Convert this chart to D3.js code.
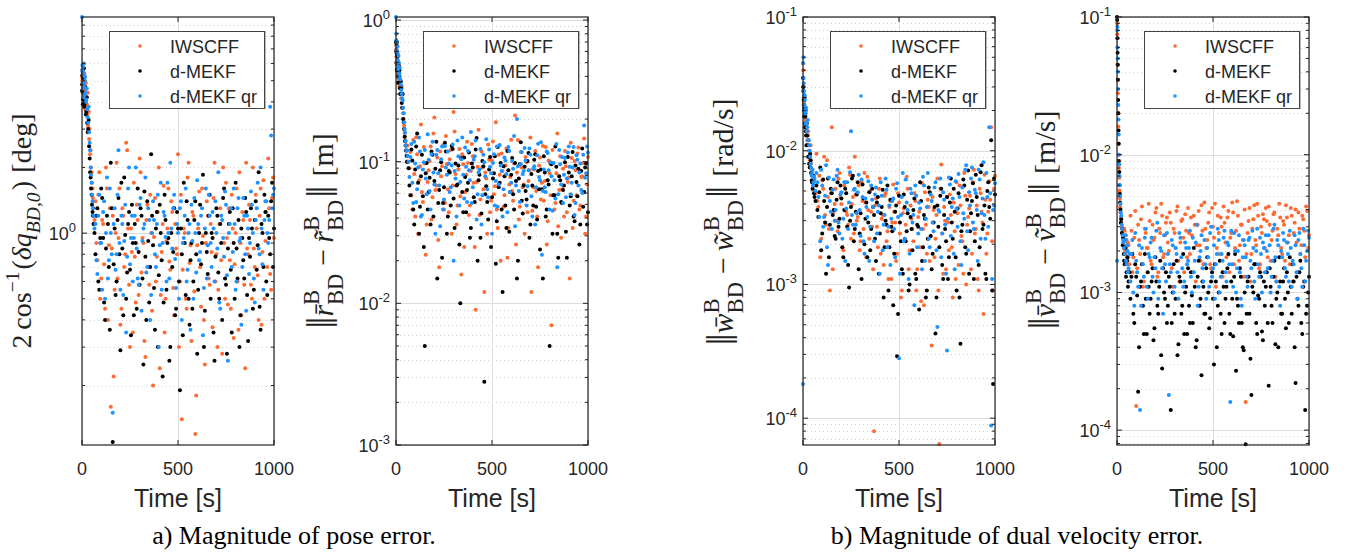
<html>
<head>
<script src="https://d3js.org/d3.v7.min.js"></script>
<style>
  body { margin: 0; background: #fff; }
  svg text { font-family: "Liberation Sans", Arial, sans-serif; }
</style>
</head>
<body>
<svg id="chart" width="1354" height="555"></svg>
<script>
// sample times [s]: two interleaved sample sets
var times = [0, 2, 4, 6, 8, 10, 13, 16, 20, 25, 30, 35, 40, 45, 50, 55, 60,
  70, 80, 90, 100, 110, 120, 130, 140, 150, 160, 170, 180, 190, 200, 210, 220, 230, 240, 250, 260,
  270, 280, 290, 300, 310, 320, 330, 340, 350, 360, 370, 380, 390, 400, 410, 420, 430, 440, 450, 460,
  470, 480, 490, 500, 510, 520, 530, 540, 550, 560, 570, 580, 590, 600, 610, 620, 630, 640, 650, 660,
  670, 680, 690, 700, 710, 720, 730, 740, 750, 760, 770, 780, 790, 800, 810, 820, 830, 840, 850, 860,
  870, 880, 890, 900, 910, 920, 930, 940, 950, 960, 970, 980, 990, 1000];
var times2 = [1, 3, 5, 7, 9, 12, 15, 18, 22, 27, 32, 37, 42, 47, 52, 57, 65,
  75, 85, 95, 105, 115, 125, 135, 145, 155, 165, 175, 185, 195, 205, 215, 225, 235, 245, 255, 265,
  275, 285, 295, 305, 315, 325, 335, 345, 355, 365, 375, 385, 395, 405, 415, 425, 435, 445, 455, 465,
  475, 485, 495, 505, 515, 525, 535, 545, 555, 565, 575, 585, 595, 605, 615, 625, 635, 645, 655, 665,
  675, 685, 695, 705, 715, 725, 735, 745, 755, 765, 775, 785, 795, 805, 815, 825, 835, 845, 855, 865,
  875, 885, 895, 905, 915, 925, 935, 945, 955, 965, 975, 985, 995];

var seriesNames = ["IWSCFF", "d-MEKF", "d-MEKF qr"];
var xTicks = [0, 500, 1000];

// a) attitude error [deg]
var attIW = [5.2, 4.8, 5.6, 4.3, 5.0, 4.6, 5.4, 4.1, 4.9, 3.9, 4.4, 3.6, 3.0, 2.4, 1.9, 1.6, 1.3,
  1.4, 0.75, 1.9, 0.62, 1.1, 0.45, 1.6, 0.88, 0.16, 1.2, 0.55, 2.1, 0.95, 0.38, 1.3, 0.7, 2.6, 1.05, 0.3, 0.82,
  1.7, 0.48, 1.15, 2.2, 0.66, 0.9, 0.27, 1.35, 0.58, 1.0, 0.2, 1.45, 0.78, 2.0, 0.52, 1.1, 0.35, 0.92, 1.6, 0.68,
  1.25, 0.42, 0.85, 2.3, 0.6, 0.14, 1.05, 0.5, 1.8, 0.73, 0.32, 1.2, 0.12, 0.88, 1.55, 0.46, 0.97, 0.25, 1.4, 0.62,
  1.1, 0.37, 2.1, 0.8, 0.55, 1.3, 0.28, 0.9, 1.7, 0.47, 0.75, 1.5, 0.33, 1.0, 0.6, 1.9, 0.42, 1.15, 0.24, 0.85,
  1.35, 0.58, 2.0, 0.7, 1.05, 0.4, 1.6, 0.82, 0.5, 1.25, 2.2, 0.65, 1.45, 0.95];
var attMEKF = [4.5, 5.3, 3.9, 5.1, 4.4, 5.7, 3.8, 4.7, 3.5, 4.2, 2.9, 3.3, 2.2, 1.8, 1.5, 1.25, 1.1,
  0.8, 1.3, 0.55, 1.6, 0.95, 0.4, 1.2, 0.7, 2.1, 0.11, 1.05, 0.6, 1.45, 0.29, 0.85, 1.8, 0.5, 1.1, 0.68, 1.35,
  0.42, 0.9, 1.6, 0.58, 1.2, 0.25, 0.78, 1.4, 0.48, 2.3, 0.88, 0.36, 1.25, 0.64, 1.0, 0.22, 1.5, 0.55, 0.95, 0.3,
  0.7, 1.3, 0.45, 1.05, 0.19, 0.8, 1.7, 0.52, 1.15, 0.38, 0.9, 0.6, 1.4, 0.28, 1.0, 0.72, 1.85, 0.44, 0.82, 1.2,
  0.5, 0.95, 0.26, 1.3, 0.66, 1.1, 0.4, 1.6, 0.58, 0.85, 1.25, 0.35, 0.9, 1.7, 0.62, 0.3, 1.05, 0.75, 1.45, 0.52,
  0.95, 1.3, 0.45, 1.15, 0.68, 1.9, 0.36, 1.0, 1.5, 0.6, 1.2, 0.8, 1.7, 1.05];
var attQR = [9.8, 5.9, 4.6, 5.5, 4.9, 6.0, 4.3, 5.2, 4.0, 4.6, 3.4, 3.8, 2.6, 2.0, 1.7, 1.4, 1.2,
  1.1, 0.65, 1.5, 0.9, 1.25, 0.5, 1.8, 0.75, 1.0, 0.15, 1.3, 0.8, 2.4, 0.55, 1.1, 0.92, 0.35, 1.6, 0.72, 1.2,
  0.95, 2.0, 0.62, 1.35, 0.44, 1.05, 1.8, 0.7, 1.15, 0.52, 1.4, 0.8, 1.1, 0.3, 1.7, 0.9, 1.2, 0.6, 1.0, 2.1,
  0.85, 1.5, 0.56, 1.0, 1.3, 0.4, 0.95, 1.6, 0.68, 1.1, 1.35, 0.5, 1.0, 1.75, 0.75, 1.2, 0.34, 1.05, 0.62, 1.5,
  0.9, 1.25, 0.6, 1.0, 1.9, 0.45, 1.15, 0.78, 1.35, 0.26, 1.1, 0.7, 1.6, 0.55, 1.3, 0.92, 0.38, 1.45, 0.8, 1.2,
  0.65, 1.55, 1.0, 0.48, 1.3, 0.85, 2.0, 0.72, 1.15, 1.4, 0.9, 3.8, 1.3, 1.6];
var attIW2 = [5.0, 4.4, 5.3, 4.7, 3.8, 5.1, 4.5, 3.7, 4.2, 3.5, 3.1, 2.7, 2.3, 2.0, 1.7, 1.45, 1.15,
  0.9, 1.5, 0.5, 1.15, 0.72, 2.0, 0.4, 1.3, 0.85, 0.22, 1.0, 0.62, 1.6, 0.45, 1.2, 0.8, 2.4, 0.58, 1.05, 0.35,
  0.78, 1.35, 0.52, 1.9, 0.95, 0.32, 1.15, 0.7, 1.5, 0.44, 0.96, 0.6, 1.25, 0.24, 0.82, 1.65, 0.5, 1.05, 0.74, 1.4,
  0.56, 1.1, 0.8, 0.3, 1.5, 0.68, 1.0, 0.45, 2.1, 0.88, 1.25, 0.54, 0.18, 1.05, 0.7, 1.6, 0.4, 0.9, 1.2, 0.58,
  0.82, 1.45, 0.6, 0.3, 1.1, 0.75, 2.0, 0.5, 0.95, 1.3, 0.45, 1.05, 0.72, 1.6, 0.36, 0.9, 1.25, 0.58, 2.1, 0.8,
  1.15, 0.5, 0.85, 1.5, 0.64, 1.2, 0.38, 1.75, 0.92, 0.7, 1.3, 0.55, 1.8];
var attMEKF2 = [4.8, 5.5, 4.1, 4.9, 5.2, 3.9, 4.4, 4.0, 3.6, 3.2, 3.0, 2.5, 1.9, 1.6, 1.35, 1.2, 1.0,
  1.2, 0.6, 0.95, 1.45, 0.48, 0.85, 1.1, 0.36, 1.3, 0.72, 0.52, 1.15, 0.8, 1.7, 0.42, 0.98, 0.66, 1.25, 0.34, 0.9,
  1.1, 0.45, 0.82, 1.3, 0.62, 1.55, 0.4, 0.92, 0.7, 1.2, 0.56, 1.05, 0.3, 1.35, 0.75, 0.48, 1.15, 0.9, 0.26, 1.0,
  0.82, 0.42, 1.25, 0.6, 1.05, 0.34, 0.9, 1.4, 0.5, 0.75, 0.45, 1.15, 0.8, 0.55, 1.35, 0.9, 0.3, 1.0, 0.65, 1.5,
  1.0, 0.35, 0.78, 1.2, 0.5, 0.9, 1.45, 0.62, 0.28, 1.1, 0.68, 1.3, 0.5, 0.85, 1.15, 0.42, 0.95, 0.62, 1.25, 0.32,
  0.78, 1.05, 0.55, 1.4, 0.88, 0.46, 1.1, 0.7, 1.25, 0.52, 0.95, 1.4, 0.7];
var attQR2 = [5.6, 4.9, 5.8, 4.2, 5.3, 4.7, 5.0, 4.4, 4.1, 3.7, 3.2, 2.9, 2.4, 1.85, 1.5, 1.3, 1.05,
  0.75, 1.2, 0.9, 0.55, 1.4, 1.0, 0.62, 1.6, 0.8, 1.1, 0.68, 1.5, 0.9, 1.2, 0.52, 1.35, 0.78, 2.0, 0.95, 0.6,
  1.2, 0.85, 0.58, 1.45, 0.92, 1.1, 0.66, 1.3, 0.4, 1.0, 1.15, 0.7, 1.5, 0.88, 0.55, 1.25, 0.96, 1.7, 0.62, 1.05,
  1.3, 0.76, 1.1, 0.5, 1.4, 0.9, 1.2, 0.6, 1.0, 0.36, 0.92, 1.45, 0.66, 1.1, 0.82, 1.3, 0.56, 1.6, 0.88, 1.2,
  0.7, 1.05, 1.4, 0.85, 0.48, 1.2, 0.95, 1.55, 0.64, 1.0, 1.3, 0.82, 1.1, 0.6, 1.45, 0.95, 0.7, 1.2, 0.44, 1.05,
  0.9, 1.35, 0.62, 1.15, 1.7, 0.8, 1.05, 0.55, 1.4, 1.0, 1.15, 2.8, 1.5];

// a) position error [m]
var posIW = [0.62, 0.55, 0.48, 0.6, 0.42, 0.52, 0.45, 0.38, 0.4, 0.3, 0.34, 0.24, 0.2, 0.16, 0.14, 0.12, 0.13,
  0.09, 0.058, 0.142, 0.041, 0.113, 0.074, 0.183, 0.052, 0.097, 0.036, 0.087, 0.128, 0.056, 0.205, 0.068, 0.028, 0.118, 0.093, 0.046, 0.152,
  0.064, 0.104, 0.031, 0.224, 0.082, 0.049, 0.123, 0.016, 0.096, 0.061, 0.138, 0.042, 0.086, 0.109, 0.025, 0.072, 0.168, 0.054, 0.091, 0.012,
  0.076, 0.132, 0.044, 0.102, 0.059, 0.19, 0.034, 0.081, 0.114, 0.048, 0.094, 0.021, 0.069, 0.143, 0.053, 0.212, 0.084, 0.039, 0.117, 0.066,
  0.031, 0.099, 0.073, 0.148, 0.045, 0.088, 0.062, 0.018, 0.107, 0.071, 0.053, 0.127, 0.038, 0.083, 0.007, 0.098, 0.051, 0.158, 0.063, 0.029,
  0.089, 0.119, 0.044, 0.077, 0.136, 0.034, 0.101, 0.058, 0.126, 0.049, 0.079, 0.146, 0.041, 0.108];
var posMEKF = [0.7, 0.5, 0.58, 0.44, 0.55, 0.36, 0.48, 0.4, 0.33, 0.37, 0.26, 0.3, 0.19, 0.15, 0.13, 0.11, 0.1,
  0.068, 0.122, 0.046, 0.088, 0.158, 0.031, 0.079, 0.057, 0.005, 0.098, 0.061, 0.036, 0.112, 0.073, 0.138, 0.051, 0.087, 0.021, 0.066, 0.118,
  0.041, 0.084, 0.129, 0.055, 0.097, 0.069, 0.026, 0.106, 0.044, 0.078, 0.063, 0.116, 0.034, 0.091, 0.052, 0.147, 0.074, 0.029, 0.101, 0.0028,
  0.067, 0.039, 0.108, 0.056, 0.083, 0.019, 0.127, 0.071, 0.046, 0.093, 0.049, 0.119, 0.032, 0.081, 0.059, 0.098, 0.015, 0.076, 0.137, 0.043,
  0.092, 0.054, 0.115, 0.036, 0.068, 0.103, 0.048, 0.086, 0.024, 0.064, 0.109, 0.041, 0.074, 0.005, 0.096, 0.058, 0.128, 0.031, 0.079, 0.052,
  0.063, 0.099, 0.021, 0.084, 0.057, 0.117, 0.038, 0.072, 0.089, 0.036, 0.124, 0.061, 0.097, 0.044];
var posQR = [1.05, 0.72, 0.6, 0.5, 0.65, 0.45, 0.56, 0.4, 0.46, 0.35, 0.3, 0.27, 0.22, 0.17, 0.14, 0.12, 0.11,
  0.078, 0.133, 0.051, 0.097, 0.064, 0.148, 0.041, 0.088, 0.121, 0.059, 0.103, 0.046, 0.138, 0.069, 0.112, 0.083, 0.035, 0.128, 0.054, 0.091,
  0.118, 0.061, 0.094, 0.02, 0.076, 0.141, 0.049, 0.104, 0.081, 0.126, 0.052, 0.087, 0.162, 0.066, 0.109, 0.039, 0.084, 0.123, 0.058, 0.099,
  0.144, 0.056, 0.092, 0.031, 0.113, 0.073, 0.048, 0.131, 0.086, 0.064, 0.102, 0.044, 0.119, 0.071, 0.089, 0.035, 0.2, 0.062, 0.096, 0.082,
  0.125, 0.049, 0.087, 0.112, 0.041, 0.093, 0.066, 0.134, 0.074, 0.022, 0.088, 0.061, 0.115, 0.046, 0.079, 0.098, 0.055, 0.018, 0.121, 0.069,
  0.051, 0.106, 0.076, 0.128, 0.059, 0.091, 0.042, 0.111, 0.068, 0.097, 0.06, 0.18, 0.083, 0.116];
var posIW2 = [0.66, 0.5, 0.58, 0.44, 0.5, 0.4, 0.48, 0.34, 0.37, 0.28, 0.3, 0.22, 0.18, 0.15, 0.13, 0.11, 0.1,
  0.117, 0.046, 0.082, 0.149, 0.031, 0.093, 0.061, 0.127, 0.022, 0.072, 0.101, 0.039, 0.158, 0.063, 0.107, 0.018, 0.079, 0.131, 0.051, 0.096,
  0.044, 0.121, 0.068, 0.163, 0.036, 0.088, 0.057, 0.113, 0.025, 0.081, 0.098, 0.049, 0.133, 0.071, 0.009, 0.092, 0.042, 0.118, 0.064, 0.084,
  0.031, 0.103, 0.053, 0.139, 0.067, 0.046, 0.112, 0.02, 0.086, 0.058, 0.124, 0.034, 0.078, 0.062, 0.097, 0.026, 0.142, 0.048, 0.091, 0.069,
  0.108, 0.044, 0.087, 0.012, 0.066, 0.119, 0.041, 0.094, 0.054, 0.129, 0.073, 0.026, 0.102, 0.058, 0.121, 0.046, 0.083, 0.035, 0.109, 0.064,
  0.041, 0.093, 0.072, 0.015, 0.106, 0.053, 0.087, 0.114, 0.046, 0.078, 0.098, 0.031, 0.069];
var posMEKF2 = [0.6, 0.68, 0.45, 0.56, 0.4, 0.5, 0.36, 0.44, 0.3, 0.33, 0.24, 0.2, 0.17, 0.14, 0.12, 0.1, 0.09,
  0.058, 0.102, 0.036, 0.128, 0.071, 0.048, 0.112, 0.025, 0.083, 0.046, 0.077, 0.118, 0.041, 0.089, 0.015, 0.063, 0.099, 0.051, 0.136, 0.031,
  0.086, 0.049, 0.123, 0.034, 0.068, 0.094, 0.01, 0.061, 0.107, 0.044, 0.071, 0.029, 0.097, 0.056, 0.122, 0.02, 0.081, 0.043, 0.093, 0.059,
  0.052, 0.088, 0.025, 0.076, 0.109, 0.038, 0.066, 0.098, 0.012, 0.079, 0.034, 0.087, 0.061, 0.106, 0.046, 0.073, 0.02, 0.096, 0.053, 0.068,
  0.062, 0.101, 0.029, 0.082, 0.049, 0.113, 0.039, 0.064, 0.088, 0.015, 0.084, 0.046, 0.069, 0.097, 0.031, 0.058, 0.092, 0.021, 0.074, 0.051,
  0.068, 0.032, 0.108, 0.049, 0.079, 0.041, 0.094, 0.057, 0.026, 0.086, 0.048, 0.091, 0.036];
var posQR2 = [0.8, 0.62, 0.7, 0.52, 0.58, 0.47, 0.5, 0.42, 0.38, 0.32, 0.28, 0.24, 0.19, 0.16, 0.13, 0.12, 0.1,
  0.108, 0.071, 0.138, 0.052, 0.091, 0.118, 0.042, 0.099, 0.076, 0.156, 0.062, 0.113, 0.084, 0.031, 0.121, 0.068, 0.104, 0.046, 0.129, 0.081,
  0.097, 0.066, 0.132, 0.086, 0.041, 0.109, 0.072, 0.148, 0.055, 0.092, 0.119, 0.074, 0.051, 0.103, 0.141, 0.059, 0.088, 0.036, 0.112, 0.079,
  0.064, 0.122, 0.083, 0.098, 0.049, 0.128, 0.069, 0.094, 0.041, 0.107, 0.082, 0.127, 0.061, 0.101, 0.152, 0.068, 0.093, 0.052, 0.117, 0.086,
  0.102, 0.067, 0.124, 0.057, 0.089, 0.036, 0.111, 0.078, 0.137, 0.062, 0.066, 0.118, 0.087, 0.099, 0.045, 0.074, 0.133, 0.059, 0.096, 0.108,
  0.081, 0.056, 0.116, 0.092, 0.071, 0.127, 0.051, 0.103, 0.084, 0.063, 0.112, 0.077, 0.128];

// b) angular velocity error [rad/s]
var angIW = [0.045, 0.03, 0.025, 0.02, 0.022, 0.018, 0.016, 0.02, 0.015, 0.013, 0.012, 0.009, 0.011, 0.007, 0.006, 0.0055, 0.005,
  0.0095, 0.0038, 0.0016, 0.006, 0.009, 0.0028, 0.0045, 0.0009, 0.015, 0.0035, 0.0052, 0.0025, 0.0068, 0.004, 0.0018, 0.0058, 0.0033, 0.0075, 0.0022, 0.0045,
  0.009, 0.003, 0.0055, 0.0021, 0.0042, 0.0068, 0.0016, 0.0036, 0.005, 0.0027, 0.00008, 0.0044, 0.0019, 0.0062, 0.0031, 0.0014, 0.0048, 0.0025, 0.0038, 0.0011,
  0.0056, 0.0029, 0.0017, 0.0041, 0.0008, 0.0034, 0.0022, 0.0064, 0.0013, 0.0039, 0.0026, 0.0048, 0.0009, 0.0032, 0.0019, 0.0057, 0.0007, 0.0028, 0.0043, 0.0015,
  0.00035, 0.0036, 0.0022, 0.0062, 0.000064, 0.0079, 0.0012, 0.003, 0.0045, 0.0018, 0.0033, 0.0008, 0.0025, 0.0058, 0.0014, 0.0039, 0.0021, 0.0068, 0.001, 0.0032,
  0.0046, 0.0017, 0.0072, 0.0026, 0.0011, 0.0052, 0.0035, 0.0006, 0.0043, 0.0024, 0.0059, 0.015, 0.0009, 0.0065];
var angMEKF = [0.035, 0.028, 0.022, 0.018, 0.025, 0.015, 0.019, 0.013, 0.016, 0.011, 0.009, 0.0075, 0.0085, 0.006, 0.0052, 0.0065, 0.0045,
  0.0055, 0.0032, 0.0075, 0.0024, 0.0042, 0.0012, 0.0062, 0.0028, 0.0048, 0.0036, 0.0022, 0.0058, 0.0031, 0.0044, 0.0016, 0.0052, 0.0027, 0.00095, 0.0038, 0.0065,
  0.0026, 0.0047, 0.0013, 0.0034, 0.0056, 0.002, 0.0041, 0.0029, 0.0018, 0.0052, 0.0033, 0.0015, 0.0045, 0.0024, 0.0038, 0.0008, 0.003, 0.0055, 0.0019, 0.0027,
  0.0007, 0.0035, 0.00029, 0.0046, 0.0021, 0.0012, 0.0038, 0.0025, 0.0009, 0.0032, 0.0018, 0.0044, 0.0011, 0.0027, 0.0058, 0.0015, 0.0033, 0.0008, 0.0022, 0.0049,
  0.0013, 0.0029, 0.00043, 0.0039, 0.0019, 0.0052, 0.0011, 0.0026, 0.0045, 0.0016, 0.0062, 0.0022, 0.0035, 0.0009, 0.0048, 0.00036, 0.0028, 0.0055, 0.0017, 0.0071,
  0.0025, 0.0042, 0.0011, 0.0066, 0.0033, 0.0019, 0.0078, 0.0028, 0.0012, 0.005, 0.0038, 0.012, 0.00018, 0.0047];
var angQR = [0.00018, 0.05, 0.032, 0.026, 0.02, 0.024, 0.016, 0.021, 0.014, 0.017, 0.012, 0.01, 0.008, 0.0065, 0.0072, 0.0058, 0.0062,
  0.0068, 0.0045, 0.0021, 0.0055, 0.0032, 0.0078, 0.0014, 0.0042, 0.0026, 0.0061, 0.0036, 0.0072, 0.0024, 0.0049, 0.0031, 0.0015, 0.0058, 0.0041, 0.014, 0.0028,
  0.0052, 0.0034, 0.0066, 0.0023, 0.0045, 0.0017, 0.0038, 0.0059, 0.0027, 0.0043, 0.0021, 0.0053, 0.0035, 0.0012, 0.0046, 0.0028, 0.0062, 0.0019, 0.0039, 0.0031,
  0.0044, 0.0016, 0.0057, 0.00028, 0.0033, 0.0068, 0.0022, 0.0041, 0.0011, 0.0052, 0.0029, 0.0007, 0.0046, 0.0024, 0.0037, 0.0013, 0.0055, 0.0031, 0.0068, 0.0019,
  0.0042, 0.0025, 0.0058, 0.00048, 0.0035, 0.0016, 0.0049, 0.0028, 0.00032, 0.0063, 0.0023, 0.0044, 0.0013, 0.0037, 0.0067, 0.0021, 0.0053, 0.0031, 0.0078, 0.0018,
  0.0039, 0.0075, 0.0026, 0.0048, 0.0015, 0.0061, 0.0034, 0.0082, 0.0022, 0.0045, 0.015, 0.000088, 0.0036, 0.0057];
var angIW2 = [0.04, 0.028, 0.023, 0.025, 0.019, 0.021, 0.017, 0.014, 0.012, 0.014, 0.01, 0.0085, 0.008, 0.0065, 0.0058, 0.006, 0.0048,
  0.0042, 0.0065, 0.0022, 0.0052, 0.0033, 0.0085, 0.0026, 0.0048, 0.0013, 0.004, 0.003, 0.0062, 0.0045, 0.0019, 0.0055, 0.0035, 0.0028, 0.0066, 0.004, 0.0024,
  0.0047, 0.0032, 0.0018, 0.0058, 0.0026, 0.0041, 0.0064, 0.0022, 0.0035, 0.0013, 0.0039, 0.0027, 0.0052, 0.0017, 0.0033, 0.0046, 0.0021, 0.0011, 0.0042, 0.0029,
  0.0035, 0.0015, 0.0048, 0.0024, 0.0009, 0.0037, 0.0028, 0.0052, 0.0018, 0.0031, 0.0021, 0.0042, 0.0013, 0.0035, 0.00075, 0.0026, 0.0049, 0.0017, 0.0038, 0.0023,
  0.0045, 0.0016, 0.0033, 0.0009, 0.0052, 0.0024, 0.0038, 0.0013, 0.0029, 0.0047, 0.0019, 0.0041, 0.0011, 0.0034, 0.0055, 0.0023, 0.0012, 0.0046, 0.0028, 0.0037,
  0.0013, 0.0058, 0.0024, 0.0039, 0.0009, 0.0048, 0.0029, 0.0066, 0.0017, 0.0035, 0.0043, 0.0021, 0.0052];
var angMEKF2 = [0.03, 0.024, 0.02, 0.021, 0.016, 0.018, 0.014, 0.011, 0.013, 0.009, 0.008, 0.0095, 0.0068, 0.0058, 0.006, 0.0048, 0.0042,
  0.0036, 0.0049, 0.0018, 0.0061, 0.0029, 0.0038, 0.0016, 0.0052, 0.0033, 0.0023, 0.0043, 0.0027, 0.0055, 0.0019, 0.0036, 0.0048, 0.0014, 0.003, 0.0062, 0.0021,
  0.0035, 0.0058, 0.0024, 0.0011, 0.0044, 0.0031, 0.0016, 0.0049, 0.0026, 0.0038, 0.0022, 0.0041, 0.0012, 0.0034, 0.0051, 0.0019, 0.0028, 0.0009, 0.0043, 0.0025,
  0.0017, 0.0039, 0.0006, 0.0029, 0.0013, 0.0047, 0.0021, 0.0034, 0.001, 0.0026, 0.0036, 0.0012, 0.0028, 0.00065, 0.0042, 0.0019, 0.0031, 0.0009, 0.0053, 0.0023,
  0.0017, 0.0038, 0.0008, 0.0027, 0.0046, 0.0014, 0.0033, 0.0021, 0.0011, 0.0041, 0.0029, 0.0052, 0.0016, 0.0037, 0.0008, 0.0025, 0.0061, 0.0019, 0.0043, 0.0012,
  0.0034, 0.0057, 0.0021, 0.0045, 0.0014, 0.0069, 0.0026, 0.0039, 0.0011, 0.0058, 0.0031, 0.0009, 0.0062];
var angQR2 = [0.045, 0.035, 0.028, 0.022, 0.026, 0.019, 0.02, 0.016, 0.015, 0.012, 0.011, 0.009, 0.0075, 0.0068, 0.0055, 0.0064, 0.005,
  0.0058, 0.0032, 0.0072, 0.0027, 0.0046, 0.0019, 0.0063, 0.0035, 0.0051, 0.003, 0.0065, 0.0029, 0.0047, 0.0022, 0.0058, 0.0037, 0.0026, 0.0069, 0.0033, 0.0051,
  0.0028, 0.0049, 0.0036, 0.0061, 0.0021, 0.0044, 0.0032, 0.0015, 0.0055, 0.0038, 0.0047, 0.0024, 0.0039, 0.0058, 0.0018, 0.0033, 0.0051, 0.0027, 0.0014, 0.0042,
  0.0026, 0.0052, 0.0032, 0.0012, 0.0045, 0.0021, 0.0061, 0.0036, 0.0017, 0.0048, 0.0033, 0.0055, 0.0019, 0.0041, 0.0026, 0.0064, 0.0015, 0.0038, 0.0022, 0.0047,
  0.0029, 0.0053, 0.0018, 0.0036, 0.0062, 0.0024, 0.0043, 0.0012, 0.0031, 0.0056, 0.0038, 0.0017, 0.0059, 0.0027, 0.0045, 0.0014, 0.0034, 0.0072, 0.0025, 0.0049,
  0.0062, 0.0029, 0.0051, 0.0036, 0.0072, 0.0022, 0.0044, 0.0033, 0.0068, 0.0027, 0.0048, 0.0011, 0.0039];

// b) linear velocity error [m/s]
var linIW = [0.09, 0.06, 0.035, 0.02, 0.012, 0.008, 0.0055, 0.0042, 0.0035, 0.003, 0.0025, 0.0021, 0.0028, 0.0019, 0.0024, 0.0017, 0.0022,
  0.0036, 0.0014, 0.0025, 0.00015, 0.0031, 0.0019, 0.0042, 0.0012, 0.0027, 0.0021, 0.0033, 0.0016, 0.0024, 0.0038, 0.0013, 0.0029, 0.0044, 0.0018, 0.0026, 0.0035,
  0.002, 0.0032, 0.0011, 0.0027, 0.0039, 0.0017, 0.0023, 0.0034, 0.0014, 0.0028, 0.0041, 0.0019, 0.0026, 0.0036, 0.0012, 0.0031, 0.0022, 0.0043, 0.0016, 0.0029,
  0.0024, 0.0038, 0.0015, 0.003, 0.0044, 0.0021, 0.0027, 0.0035, 0.0013, 0.0032, 0.0018, 0.0039, 0.0025, 0.0045, 0.0016, 0.0028, 0.0036, 0.0022, 0.0031, 0.0013,
  0.00016, 0.0027, 0.0041, 0.0019, 0.0034, 0.0024, 0.0044, 0.0015, 0.003, 0.0037, 0.0021, 0.0033, 0.0042, 0.0017, 0.0028, 0.0038, 0.0012, 0.0026, 0.0035, 0.0019,
  0.0031, 0.0043, 0.0023, 0.0016, 0.0036, 0.0027, 0.004, 0.0014, 0.0029, 0.0022, 0.0034, 0.0018, 0.0039, 0.0026];
var linMEKF = [0.1, 0.07, 0.045, 0.025, 0.015, 0.009, 0.006, 0.0045, 0.0032, 0.0027, 0.0022, 0.0019, 0.0016, 0.0021, 0.0014, 0.0018, 0.0012,
  0.0009, 0.0019, 0.0006, 0.0013, 0.00019, 0.0011, 0.0016, 0.0005, 0.0009, 0.0014, 0.0007, 0.0012, 0.00045, 0.0018, 0.0008, 0.0011, 0.00035, 0.0015, 0.0009, 0.0006,
  0.0013, 0.00014, 0.001, 0.0007, 0.0017, 0.00042, 0.0012, 0.0008, 0.0005, 0.0011, 0.0015, 0.0006, 0.00095, 0.0021, 0.0004, 0.0013, 0.0008, 0.00025, 0.0011, 0.0007,
  0.0018, 0.00055, 0.0012, 0.0009, 0.0016, 0.0004, 0.001, 0.0007, 0.0014, 0.0006, 0.0011, 0.0019, 0.0005, 0.0009, 0.0013, 0.00027, 0.0008, 0.0015, 0.0006, 0.00038,
  0.000079, 0.0012, 0.0007, 0.00018, 0.001, 0.0016, 0.0005, 0.0009, 0.0013, 0.00045, 0.0008, 0.0014, 0.00021, 0.0011, 0.0006, 0.0017, 0.0009, 0.0004, 0.0012, 0.0007,
  0.0015, 0.00055, 0.001, 0.0018, 0.0007, 0.0012, 0.00022, 0.0009, 0.0014, 0.0006, 0.0011, 0.00014, 0.0008, 0.0013];
var linQR = [0.0017, 0.085, 0.05, 0.03, 0.018, 0.01, 0.007, 0.005, 0.0038, 0.0031, 0.0026, 0.0023, 0.0019, 0.0024, 0.0016, 0.002, 0.0015,
  0.0012, 0.0024, 0.0008, 0.0017, 0.0011, 0.00014, 0.0021, 0.0013, 0.0029, 0.0009, 0.0018, 0.0025, 0.001, 0.0015, 0.0032, 0.0012, 0.002, 0.0007, 0.0016, 0.0027,
  0.00018, 0.0014, 0.0022, 0.0011, 0.0019, 0.0009, 0.0025, 0.0015, 0.0012, 0.0021, 0.0017, 0.0028, 0.001, 0.0014, 0.0023, 0.0008, 0.0018, 0.0026, 0.0012, 0.0016,
  0.0021, 0.0011, 0.003, 0.0015, 0.0009, 0.0019, 0.0024, 0.0013, 0.0017, 0.0028, 0.0012, 0.0022, 0.00016, 0.0016, 0.0027, 0.001, 0.002, 0.0014, 0.0008, 0.0024,
  0.0018, 0.0011, 0.0025, 0.0015, 0.0021, 0.0009, 0.0029, 0.0013, 0.0019, 0.0023, 0.0014, 0.002, 0.0026, 0.001, 0.0017, 0.0031, 0.0012, 0.0022, 0.0008, 0.0018,
  0.0024, 0.0013, 0.0019, 0.0028, 0.0011, 0.0016, 0.0022, 0.0009, 0.0027, 0.0015, 0.0029, 0.0012, 0.002, 0.0025];
var linIW2 = [0.075, 0.045, 0.028, 0.016, 0.01, 0.0068, 0.0048, 0.0038, 0.0032, 0.0027, 0.0023, 0.0029, 0.002, 0.0026, 0.0018, 0.0023, 0.0016,
  0.0028, 0.0018, 0.0039, 0.0015, 0.0024, 0.0034, 0.0011, 0.0029, 0.0021, 0.0044, 0.0017, 0.0031, 0.0025, 0.0041, 0.0014, 0.0027, 0.0036, 0.0019, 0.0032, 0.0023,
  0.0038, 0.0015, 0.0029, 0.0021, 0.0042, 0.0012, 0.0033, 0.0025, 0.0037, 0.0018, 0.0027, 0.0035, 0.0014, 0.0031, 0.0022, 0.0039, 0.0017, 0.0028, 0.0045, 0.0021,
  0.0032, 0.0016, 0.0041, 0.0025, 0.0011, 0.0036, 0.0019, 0.003, 0.0042, 0.0023, 0.0035, 0.0014, 0.0027, 0.0038, 0.0021, 0.0046, 0.0017, 0.0031, 0.0024, 0.004,
  0.0019, 0.0033, 0.0012, 0.0029, 0.0043, 0.0022, 0.0036, 0.0016, 0.0027, 0.0034, 0.0041, 0.0018, 0.0031, 0.0024, 0.0037, 0.0013, 0.0029, 0.0044, 0.0021, 0.0033,
  0.0017, 0.0035, 0.0026, 0.0041, 0.0012, 0.0032, 0.0023, 0.0038, 0.0019, 0.0036, 0.0028, 0.0042, 0.0021];
var linMEKF2 = [0.095, 0.055, 0.035, 0.02, 0.012, 0.0075, 0.0052, 0.004, 0.0034, 0.0029, 0.0025, 0.0017, 0.0021, 0.0013, 0.0017, 0.0011, 0.0014,
  0.0013, 0.0007, 0.0016, 0.00095, 0.0004, 0.0012, 0.0008, 0.0019, 0.0005, 0.0011, 0.0009, 0.0015, 0.00055, 0.0012, 0.0007, 0.0017, 0.00028, 0.001, 0.0014, 0.0008,
  0.0011, 0.0006, 0.0016, 0.0009, 0.00035, 0.0013, 0.0007, 0.0019, 0.001, 0.0005, 0.0008, 0.0014, 0.0006, 0.0011, 0.00045, 0.0017, 0.0009, 0.0012, 0.0007, 0.0015,
  0.001, 0.00065, 0.0014, 0.0003, 0.0012, 0.0008, 0.0017, 0.0005, 0.0011, 0.0009, 0.0015, 0.0007, 0.0012, 0.00048, 0.0019, 0.0009, 0.0006, 0.0013, 0.0004, 0.001,
  0.0007, 0.0013, 0.00033, 0.0011, 0.0016, 0.0006, 0.00095, 0.0014, 0.00052, 0.0012, 0.0011, 0.0006, 0.0015, 0.0008, 0.0013, 0.00042, 0.001, 0.0018, 0.0007, 0.0012,
  0.0009, 0.0014, 0.0006, 0.0011, 0.0016, 0.0004, 0.0013, 0.0008, 0.0017, 0.0005, 0.0012, 0.0007, 0.001];
var linQR2 = [0.08, 0.06, 0.04, 0.023, 0.014, 0.0085, 0.006, 0.0044, 0.0036, 0.0029, 0.0024, 0.0021, 0.0026, 0.0017, 0.0022, 0.0014, 0.0019,
  0.0019, 0.001, 0.0027, 0.0014, 0.0022, 0.0008, 0.0016, 0.0025, 0.0011, 0.0019, 0.0023, 0.0013, 0.0018, 0.0028, 0.0009, 0.0021, 0.0015, 0.0026, 0.0012, 0.0019,
  0.0016, 0.0024, 0.001, 0.0021, 0.0014, 0.0027, 0.0018, 0.0011, 0.0023, 0.0016, 0.0021, 0.0013, 0.0025, 0.0017, 0.0031, 0.0011, 0.002, 0.0015, 0.0024, 0.0009,
  0.0018, 0.0027, 0.0013, 0.0022, 0.0016, 0.0029, 0.001, 0.0019, 0.0025, 0.0014, 0.0023, 0.0016, 0.0028, 0.0011, 0.002, 0.0015, 0.0026, 0.0009, 0.0018, 0.0022,
  0.0013, 0.0024, 0.0017, 0.0028, 0.0012, 0.002, 0.0016, 0.0025, 0.001, 0.0021, 0.0026, 0.0015, 0.0022, 0.0013, 0.0029, 0.0018, 0.0024, 0.0011, 0.002, 0.0027,
  0.0015, 0.0023, 0.0012, 0.0021, 0.0017, 0.0026, 0.0014, 0.0024, 0.0019, 0.0011, 0.0022, 0.0017, 0.0028];

var colors = ["#ff6a33", "#000000", "#1e93ff"];

var svg = d3.select("#chart");

// y-axis labels as pieces: t = text, it = italic, sup / sub, st = stacked [sup, sub], sp = space (em)
function barLabel(sym) {
  return [{t: "\u2016", big: 1}, {t: sym + "\u0304", it: 1}, {st: ["B", "BD"]}, {sp: 0.2}, {t: "\u2212"}, {sp: 0.2},
    {t: sym + "\u0303", it: 1}, {st: ["B", "BD"]}, {t: "\u2016", big: 1}];
}

var panels = [
  {left: 82, data: [[attIW, attIW2], [attMEKF, attMEKF2], [attQR, attQR2]], dom: [0.1067, 9.8], lx: 22, ly: 231, fs: 28,
    label: [{t: "2"}, {sp: 0.17}, {t: "cos"}, {t: "\u22121", sup: 1}, {t: "("}, {t: "\u03b4q", it: 1},
      {t: "BD,0", sub: 1, it: 1}, {t: ")"}, {sp: 0.3}, {t: "[deg]"}]},
  {left: 396, data: [[posIW, posIW2], [posMEKF, posMEKF2], [posQR, posQR2]], dom: [0.001, 1.05], lx: 323, ly: 231, fs: 30,
    label: barLabel("r").concat([{sp: 0.3}, {t: "[m]"}])},
  {left: 803, data: [[angIW, angIW2], [angMEKF, angMEKF2], [angQR, angQR2]], dom: [0.000063, 0.1], lx: 723, ly: 222, fs: 30,
    label: barLabel("w").concat([{sp: 0.3}, {t: "[rad/s]"}])},
  {left: 1117, data: [[linIW, linIW2], [linMEKF, linMEKF2], [linQR, linQR2]], dom: [0.000078, 0.1], lx: 1045, ly: 220, fs: 30,
    label: barLabel("v").concat([{sp: 0.3}, {t: "[m/s]"}])}
];

var W = 192, plotTop = 17, plotBottom = 445;

panels.forEach(function (p) {
  var g = svg.append("g");
  var x = d3.scaleLinear().domain([0, 1000]).range([p.left, p.left + W]);
  var y = d3.scaleLog().domain(p.dom).range([plotBottom, plotTop]);

  var lo = Math.floor(Math.log10(p.dom[0])), hi = Math.ceil(Math.log10(p.dom[1]));
  var major = [], minor = [];
  for (var e = lo; e <= hi; e++) {
    var b = Math.pow(10, e);
    if (b >= p.dom[0] * 0.999 && b <= p.dom[1] * 1.001) major.push(b);
    for (var m = 2; m <= 9; m++) {
      var v = m * b;
      if (v > p.dom[0] && v < p.dom[1]) minor.push(v);
    }
  }

  // grid
  g.selectAll(".minor").data(minor).enter().append("line")
    .attr("x1", p.left).attr("x2", p.left + W)
    .attr("y1", function (d) { return Math.round(y(d)) + 0.5; })
    .attr("y2", function (d) { return Math.round(y(d)) + 0.5; })
    .attr("stroke", "#cfcfcf").attr("stroke-dasharray", "1,3");
  g.selectAll(".major").data(major).enter().append("line")
    .attr("x1", p.left).attr("x2", p.left + W)
    .attr("y1", function (d) { return Math.round(y(d)) + 0.5; })
    .attr("y2", function (d) { return Math.round(y(d)) + 0.5; })
    .attr("stroke", "#dcdcdc");
  g.selectAll(".xgrid").data(xTicks).enter().append("line")
    .attr("x1", function (d) { return Math.round(x(d)) + 0.5; })
    .attr("x2", function (d) { return Math.round(x(d)) + 0.5; })
    .attr("y1", plotTop).attr("y2", plotBottom)
    .attr("stroke", "#dcdcdc");

  // points: series drawn in legend order, both sample sets each
  p.data.forEach(function (sets, si) {
    [times, times2].forEach(function (ts, k) {
      g.append("g").selectAll("circle").data(sets[k]).enter().append("circle")
        .attr("cx", function (d, i) { return x(ts[i]); })
        .attr("cy", function (d) { return y(d); })
        .attr("r", 2)
        .attr("fill", colors[si]);
    });
  });

  // box and ticks
  g.append("rect").attr("x", p.left).attr("y", plotTop).attr("width", W).attr("height", plotBottom - plotTop)
    .attr("fill", "none").attr("stroke", "#222").attr("stroke-width", 1.2);
  [[p.left, 1], [p.left + W, -1]].forEach(function (s) {
    g.selectAll(null).data(major).enter().append("line")
      .attr("x1", s[0]).attr("x2", s[0] + s[1] * 5)
      .attr("y1", function (d) { return y(d); }).attr("y2", function (d) { return y(d); })
      .attr("stroke", "#222");
    g.selectAll(null).data(minor).enter().append("line")
      .attr("x1", s[0]).attr("x2", s[0] + s[1] * 3)
      .attr("y1", function (d) { return y(d); }).attr("y2", function (d) { return y(d); })
      .attr("stroke", "#222");
  });
  [[plotBottom, -1], [plotTop, 1]].forEach(function (s) {
    g.selectAll(null).data(xTicks).enter().append("line")
      .attr("x1", function (d) { return x(d); }).attr("x2", function (d) { return x(d); })
      .attr("y1", s[0]).attr("y2", s[0] + s[1] * 5)
      .attr("stroke", "#222");
  });

  // tick labels
  g.selectAll(null).data(xTicks).enter().append("text")
    .attr("x", function (d) { return x(d); }).attr("y", 475)
    .attr("text-anchor", "middle").attr("font-size", 18).attr("fill", "#262626")
    .text(function (d) { return d; });
  var yl = g.selectAll(null).data(major).enter().append("text")
    .attr("x", p.left - 6).attr("y", function (d) { return y(d) + 7; })
    .attr("text-anchor", "end").attr("font-size", 18).attr("fill", "#262626");
  yl.append("tspan").text("10");
  yl.append("tspan").attr("dy", -8).attr("font-size", 13)
    .text(function (d) { var e = Math.round(Math.log10(d)); return e < 0 ? "-" + (-e) : e; });

  g.append("text").attr("x", p.left + W / 2).attr("y", 507)
    .attr("text-anchor", "middle").attr("font-size", 25).attr("fill", "#262626")
    .text("Time [s]");

  // legend
  var lx = p.left + W - 10 - 155, ly = 31;
  g.append("rect").attr("x", lx + 1.5).attr("y", ly + 0.5).attr("width", 155).attr("height", 77)
    .attr("fill", "none").attr("stroke", "#bbb");
  g.append("rect").attr("x", lx + 0.5).attr("y", ly + 0.5).attr("width", 155).attr("height", 77)
    .attr("fill", "#fff").attr("stroke", "#444");
  seriesNames.forEach(function (n, i) {
    var cy = ly + 15 + i * 25;
    g.append("circle").attr("cx", lx + 31).attr("cy", cy).attr("r", 1.8).attr("fill", colors[i]);
    g.append("text").attr("x", lx + 61).attr("y", cy + 7).attr("font-size", 18).attr("fill", "#262626").text(n);
  });

  // y label (math-like)
  var fs = p.fs;
  var lg = g.append("g").attr("transform", "translate(" + p.lx + "," + p.ly + ") rotate(-90)");
  var cur = 0;
  function put(t, xx, dy, size, it) {
    return lg.append("text").attr("x", xx).attr("y", dy + fs * 0.33)
      .attr("font-size", size).attr("font-style", it ? "italic" : "normal")
      .style("font-family", "'Liberation Serif', 'DejaVu Serif', serif").attr("fill", "#222").text(t);
  }
  p.label.forEach(function (q) {
    if (q.sp) { cur += q.sp * fs; return; }
    if (q.st) {
      var a = put(q.st[0], cur, -0.45 * fs, fs * 0.75);
      var b2 = put(q.st[1], cur, 0.32 * fs, fs * 0.75);
      cur += Math.max(a.node().getComputedTextLength(), b2.node().getComputedTextLength()) + 2;
      return;
    }
    var dy = q.sup ? -0.42 * fs : q.sub ? 0.3 * fs : q.big ? 0.12 * fs : 0;
    var sz = (q.sup || q.sub) ? fs * 0.7 : q.big ? fs * 1.45 : fs;
    var t = put(q.t, cur, dy, sz, q.it);
    cur += t.node().getComputedTextLength() + (q.sup || q.sub ? 2 : 0);
  });
  var total = cur;
  lg.selectAll("text").attr("x", function () { return +d3.select(this).attr("x") - total / 2; });
});

// captions
svg.append("text").attr("x", 294).attr("y", 544).attr("text-anchor", "middle").attr("font-size", 26)
  .style("font-family", "'Liberation Serif', serif").text("a) Magnitude of pose error.");
svg.append("text").attr("x", 1017).attr("y", 544).attr("text-anchor", "middle").attr("font-size", 26)
  .style("font-family", "'Liberation Serif', serif").text("b) Magnitude of dual velocity error.");
</script>
</body>
</html>
